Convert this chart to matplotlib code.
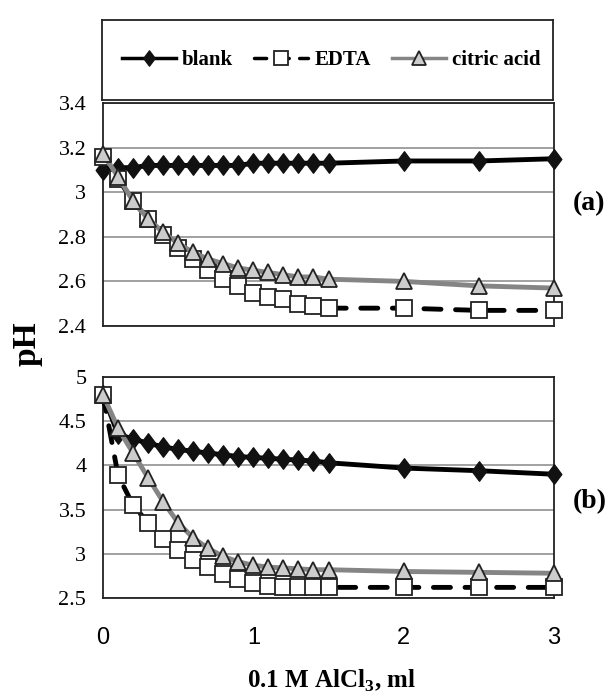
import matplotlib
matplotlib.use("Agg")
import matplotlib.pyplot as plt
from matplotlib.lines import Line2D
from matplotlib.path import Path

x = [0, 0.1, 0.2, 0.3, 0.4, 0.5, 0.6, 0.7, 0.8, 0.9, 1.0, 1.1, 1.2, 1.3, 1.4, 1.5, 2.0, 2.5, 3.0]

# panel (a)
blank_a = [3.10, 3.11, 3.11, 3.12, 3.12, 3.12, 3.12, 3.12, 3.12, 3.12, 3.13, 3.13, 3.13, 3.13, 3.13, 3.13, 3.14, 3.14, 3.15]
edta_a = [3.16, 3.06, 2.96, 2.88, 2.81, 2.75, 2.70, 2.65, 2.61, 2.58, 2.55, 2.53, 2.52, 2.50, 2.49, 2.48, 2.48, 2.47, 2.47]
citric_a = [3.17, 3.07, 2.96, 2.88, 2.82, 2.77, 2.73, 2.70, 2.68, 2.66, 2.65, 2.64, 2.63, 2.62, 2.62, 2.61, 2.60, 2.58, 2.57]

# panel (b)
blank_b = [4.80, 4.35, 4.30, 4.25, 4.21, 4.18, 4.16, 4.14, 4.12, 4.10, 4.09, 4.08, 4.07, 4.06, 4.05, 4.03, 3.97, 3.94, 3.90]
edta_b = [4.80, 3.89, 3.55, 3.35, 3.17, 3.04, 2.93, 2.85, 2.77, 2.71, 2.67, 2.64, 2.63, 2.62, 2.62, 2.62, 2.62, 2.62, 2.62]
citric_b = [4.80, 4.42, 4.14, 3.86, 3.59, 3.35, 3.18, 3.06, 2.97, 2.91, 2.87, 2.85, 2.84, 2.83, 2.82, 2.82, 2.80, 2.79, 2.78]

yticks_a = [2.4, 2.6, 2.8, 3.0, 3.2, 3.4]
ytick_labels_a = ["2.4", "2.6", "2.8", "3", "3.2", "3.4"]
yticks_b = [2.5, 3.0, 3.5, 4.0, 4.5, 5.0]
ytick_labels_b = ["2.5", "3", "3.5", "4", "4.5", "5"]
xticks = [0, 1, 2, 3]
xtick_labels = ["0", "1", "2", "3"]

series_names = ["blank", "EDTA", "citric acid"]

serif = "Liberation Serif"
sans = "Liberation Sans"

fig = plt.figure(figsize=(6.13, 6.98), dpi=100)
W, H = 613, 698

def frac(l, t, r, b):
    return [l / W, 1 - b / H, (r - l) / W, (b - t) / H]

ax_leg = fig.add_axes(frac(102, 20, 553, 100))
ax_a = fig.add_axes(frac(103, 103, 554, 326))
ax_b = fig.add_axes(frac(103, 377, 554, 598))

tall_diamond = Path([(0, 1), (0.75, 0), (0, -1), (-0.75, 0), (0, 1)],
                    [Path.MOVETO, Path.LINETO, Path.LINETO, Path.LINETO, Path.CLOSEPOLY])

styles = [
    dict(color="black", lw=3.5, marker=tall_diamond, ms=14, mfc="#111111", mec="#111111", ls="-"),
    dict(color="black", lw=3.5, marker="s", ms=11.5, mfc="white", mec="#222222", mew=1.3,
         ls=(0, (3.5, 3)), dash_capstyle="round"),
    dict(color="#858585", lw=3.5, marker="^", ms=11.5, mfc="#cccccc", mec="#222222", mew=1.3, ls="-"),
]

for ax, data, yt, ytl, ylim, tag, tagy in [
    (ax_a, [blank_a, edta_a, citric_a], yticks_a, ytick_labels_a, (2.4, 3.4), "(a)", 0.55),
    (ax_b, [blank_b, edta_b, citric_b], yticks_b, ytick_labels_b, (2.5, 5.0), "(b)", 0.435),
]:
    for d, st, z in zip(data, styles, [3, 4, 5]):
        ax.plot(x, d, clip_on=False, zorder=z, **st)
    ax.set_xlim(0, 3)
    ax.set_ylim(*ylim)
    ax.set_yticks(yt)
    ax.set_yticklabels(ytl, fontfamily=serif, fontsize=16)
    ax.set_xticks(xticks)
    ax.yaxis.grid(True, color="#9a9a9a", lw=1.3)
    ax.set_axisbelow(True)
    ax.tick_params(axis="both", length=0)
    ax.tick_params(axis="y", pad=12)
    for s in ax.spines.values():
        s.set_color("#222222")
        s.set_linewidth(1.3)
    ax.text(1.042, tagy, tag, transform=ax.transAxes, fontfamily=serif, fontsize=20,
            fontweight="bold", va="center", ha="left")

ax_a.set_xticklabels([])
ax_b.set_xticklabels(xtick_labels, fontfamily=sans, fontsize=17)
ax_b.tick_params(axis="x", pad=21)

fig.text(331 / W, 1 - 681 / H, "0.1 M AlCl$_\\mathregular{3}$, ml", fontfamily=serif,
         fontsize=18, fontweight="bold", va="center", ha="center")

fig.text(27 / W, 1 - 344 / H, "pH", rotation=90, fontfamily=serif, fontsize=24,
         fontweight="bold", va="center", ha="center")

# legend box
ax_leg.set_xticks([])
ax_leg.set_yticks([])
for s in ax_leg.spines.values():
    s.set_color("#222222")
    s.set_linewidth(1.3)
handles = []
for st, ms in zip(styles, [11, 10, 10]):
    st2 = dict(st)
    st2["ms"] = ms
    st2["lw"] = 2.5
    handles.append(Line2D([], [], **st2))
leg = ax_leg.legend(handles, series_names, loc="center", ncol=3, frameon=False,
                    bbox_to_anchor=(0.508, 0.50),
                    prop=dict(family=serif, weight="bold", size=15),
                    handlelength=2.6, columnspacing=1.0, handletextpad=0.3)

fig.savefig("out.png", dpi=100)
